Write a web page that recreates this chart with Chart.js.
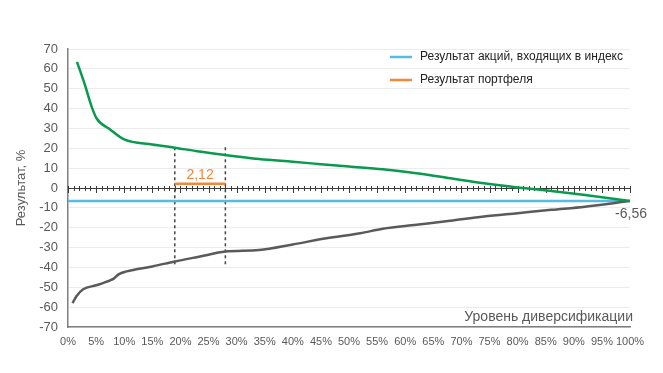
<!DOCTYPE html>
<html><head><meta charset="utf-8">
<script src="https://cdn.jsdelivr.net/npm/chart.js@4/dist/chart.umd.min.js"></script>
<style>html,body{margin:0;padding:0;background:#fff}#wrap{width:663px;height:373px;position:relative}</style>
</head><body><div id="wrap"><canvas id="c" width="663" height="373"></canvas></div>
<script>
// ---- data ----
const greenX = [1.6, 3, 4.2, 5.1, 7.5, 10, 15, 19, 23, 28, 34, 40, 45, 50, 56, 62, 68, 74, 80, 86, 92, 100];
const greenY = [63.5, 52, 41, 35, 29.5, 24.5, 21.9, 20.3, 18.5, 16.6, 14.6, 13.2, 12, 10.8, 9.4, 7.4, 4.9, 2.4, 0.3, -1.5, -3.5, -6.56];
const grayX = [0.8, 1.5, 2.7, 5, 7.5, 8.2, 9, 10.4, 15, 19, 23.5, 28, 34, 40, 46, 52, 56, 62, 68, 74, 80, 86, 92, 100];
const grayY = [-58, -54.5, -51, -49, -46.5, -45.5, -43.5, -42, -39.5, -37, -34.5, -32, -31.2, -28.4, -25.3, -22.8, -20.5, -18.5, -16.5, -14.4, -12.7, -11, -9.4, -6.56];
const indexX = [0, 100];
const indexY = [-6.56, -6.56];
const portfolioX = [19, 28];
const portfolioY = [2.12, 2.12];
const dashLeftX = [19, 19];
const dashRightX = [28, 28];
const dashY = [20.5, -39.5];
const seriesNames = ['Результат акций, входящих в индекс', 'Результат портфеля'];
const yTitle = 'Результат, %';
const xTitle = 'Уровень диверсификации';
const portfolioLabel = '2,12';
const endLabel = '-6,56';

const FONT = '"Liberation Sans", Arial, sans-serif';
const C_GREEN = '#0a9a4e', C_GRAY = '#5a5a5a', C_BLUE = '#55bde3', C_ORANGE = '#f0873a', C_TEXT = '#595959';

const pts = (xs, ys) => xs.map((x, i) => ({x, y: ys[i]}));

const overlay = {
  id: 'overlay',
  beforeDatasetsDraw(chart) {
    const {ctx, scales: {x, y}} = chart;
    const y0 = y.getPixelForValue(0);
    ctx.save();
    ctx.strokeStyle = '#3a3a3a';
    ctx.lineWidth = 1;
    ctx.beginPath();
    ctx.moveTo(x.getPixelForValue(0), y0 + 0.5);
    ctx.lineTo(x.getPixelForValue(100), y0 + 0.5);
    ctx.stroke();
    for (let v = 0; v <= 100; v++) {
      const px = Math.round(x.getPixelForValue(v)) + 0.5;
      ctx.beginPath();
      ctx.moveTo(px, y0 - 2);
      ctx.lineTo(px, y0 + (v % 5 === 0 ? 5 : 3));
      ctx.stroke();
    }
    ctx.restore();
  },
  afterDraw(chart) {
    const {ctx, scales: {x, y}} = chart;
    ctx.save();
    // legend
    const items = [[C_BLUE, 57], [C_ORANGE, 80]];
    ctx.font = '12px ' + FONT;
    ctx.textBaseline = 'middle';
    items.forEach(([col, yy], i) => {
      ctx.strokeStyle = col; ctx.lineWidth = 2.5;
      ctx.beginPath(); ctx.moveTo(390, yy); ctx.lineTo(412, yy); ctx.stroke();
      ctx.fillStyle = '#222';
      ctx.fillText(seriesNames[i], 420, yy);
    });
    // x title
    ctx.font = '14px ' + FONT;
    ctx.fillStyle = C_TEXT;
    ctx.textAlign = 'right';
    ctx.textBaseline = 'alphabetic';
    ctx.fillText(xTitle, 633, 321);
    // labels
    ctx.font = '14px ' + FONT;
    ctx.textAlign = 'center';
    ctx.fillStyle = C_ORANGE;
    ctx.fillText(portfolioLabel, (x.getPixelForValue(portfolioX[0]) + x.getPixelForValue(portfolioX[1])) / 2, y.getPixelForValue(portfolioY[0]) - 5);
    ctx.fillStyle = C_TEXT;
    ctx.textAlign = 'right';
    ctx.fillText(endLabel, 647, 218);
    ctx.restore();
  }
};

new Chart(document.getElementById('c'), {
  type: 'line',
  data: {
    datasets: [
      {label: 'green', data: pts(greenX, greenY), borderColor: C_GREEN, borderWidth: 2.5, pointRadius: 0, cubicInterpolationMode: 'monotone'},
      {label: 'gray', data: pts(grayX, grayY), borderColor: C_GRAY, borderWidth: 2.5, pointRadius: 0, cubicInterpolationMode: 'monotone'},
      {label: seriesNames[0], data: pts(indexX, indexY), borderColor: C_BLUE, borderWidth: 2.5, pointRadius: 0},
      {label: seriesNames[1], data: pts(portfolioX, portfolioY), borderColor: C_ORANGE, borderWidth: 2.5, pointRadius: 0},
      {label: 'd1', data: pts(dashLeftX, dashY), borderColor: '#444', borderWidth: 1.5, borderDash: [3, 3], pointRadius: 0},
      {label: 'd2', data: pts(dashRightX, dashY), borderColor: '#444', borderWidth: 1.5, borderDash: [3, 3], pointRadius: 0}
    ]
  },
  options: {
    responsive: false,
    animation: false,
    layout: {padding: {left: 14, right: 33, top: 49, bottom: 16}},
    plugins: {legend: {display: false}, tooltip: {enabled: false}},
    scales: {
      x: {
        type: 'linear', min: 0, max: 100,
        afterFit: s => { s.height = 30; },
        grid: {display: false, drawTicks: false},
        border: {color: '#7f7f7f', width: 1.5},
        ticks: {stepSize: 5, autoSkip: false, maxRotation: 0, padding: 8, color: C_TEXT, font: {family: FONT, size: 11}, callback: v => v + '%'}
      },
      y: {
        min: -70, max: 70,
        afterFit: s => { s.width = 54; },
        grid: {color: '#ececec', drawTicks: false},
        border: {color: '#7f7f7f', width: 1.5},
        ticks: {stepSize: 10, padding: 10, color: C_TEXT, font: {family: FONT, size: 13}},
        title: {display: true, text: yTitle, color: C_TEXT, font: {family: FONT, size: 13}, padding: 0}
      }
    }
  },
  plugins: [overlay]
});
</script></body></html>
